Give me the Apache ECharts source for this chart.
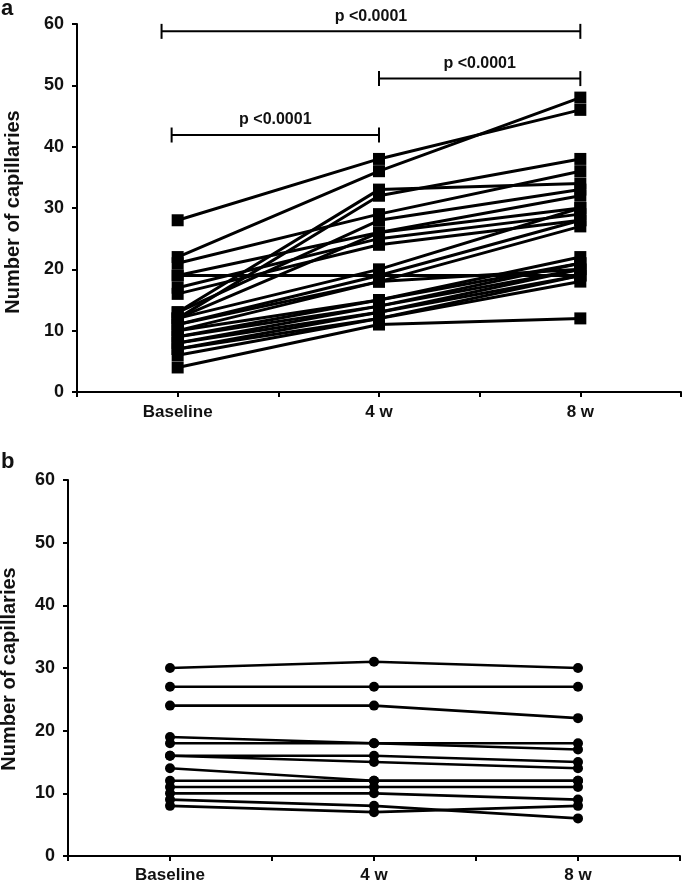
<!DOCTYPE html>
<html>
<head>
<meta charset="utf-8">
<script src="https://cdn.jsdelivr.net/npm/echarts@6/dist/echarts.min.js"></script>
<style>
html,body{margin:0;padding:0;background:#fff;}
#chart{width:685px;height:884px;}
</style>
</head>
<body>
<div id="chart"></div>
<script>
// ---- data ----
const categories = ['Baseline', '4 w', '8 w'];
const yTicks = [0, 10, 20, 30, 40, 50, 60];

// Panel a (squares): one value per subject at each time point
const aBaseline = [28, 22, 21, 19, 19, 17, 16, 13, 12, 13, 12, 11, 11, 10, 10, 9, 9, 8, 8, 7, 7, 6, 4, 12];
const a4w       = [38, 36, 29, 19, 26, 25, 24, 33, 32, 28, 20, 19, 18, 18, 15, 15, 14, 14, 13, 13, 12, 12, 11, 26];
const a8w       = [46, 48, 36, 19, 30, 29, 28, 34, 38, 33, 30, 28, 27, 20, 22, 21, 20, 21, 19, 20, 18, 19, 12, 32];

// Panel b (circles)
const bBaseline = [30, 27, 24, 19, 18, 16, 16, 14, 12, 11, 10, 9, 8];
const b4w       = [31, 27, 24, 18, 18, 16, 15, 12, 12, 11, 10, 8, 7];
const b8w       = [30, 27, 22, 18, 17, 15, 14, 12, 12, 11, 9, 6, 8];

// Significance brackets on panel a: [from x, to x, level]
const bracketFrom  = [-0.03, 1, -0.08];
const bracketTo    = [1, 2, 2];
const bracketLevel = [41.9, 51.1, 58.8];
const bracketText  = ['p <0.0001', 'p <0.0001', 'p <0.0001'];

// ---- chart ----
const FONT = '"Liberation Sans", Arial, Helvetica, sans-serif';
const chart = echarts.init(document.getElementById('chart'), null, {renderer: 'canvas'});

function xAxisDef(gridIndex, labelMargin) {
  return {
    gridIndex, type: 'value', min: -0.5, max: 2.5, interval: 0.5,
    axisLine: {show: true, onZero: false, lineStyle: {color: '#000', width: 2}},
    axisTick: {show: true, inside: false, length: 5, lineStyle: {color: '#000', width: 2}},
    splitLine: {show: false},
    axisLabel: {
      margin: labelMargin, color: '#111', fontSize: 17, fontWeight: 'bold', fontFamily: FONT,
      showMinLabel: true, showMaxLabel: true,
      formatter: v => (Number.isInteger(v) && categories[v] !== undefined) ? categories[v] : ''
    }
  };
}
function yAxisDef(gridIndex) {
  return {
    gridIndex, type: 'value', min: yTicks[0], max: yTicks[yTicks.length - 1], interval: 10,
    axisLine: {show: true, onZero: false, lineStyle: {color: '#000', width: 2}},
    axisTick: {show: true, inside: false, length: 5, lineStyle: {color: '#000', width: 2}},
    splitLine: {show: false},
    axisLabel: {margin: 13, color: '#111', fontSize: 18, fontWeight: 'bold', fontFamily: FONT}
  };
}

const series = [];
for (let i = 0; i < aBaseline.length; i++) {
  series.push({
    type: 'line', xAxisIndex: 0, yAxisIndex: 0,
    data: [[0, aBaseline[i]], [1, a4w[i]], [2, a8w[i]]],
    symbol: 'rect', symbolSize: 12, showSymbol: true,
    lineStyle: {color: '#000', width: 3},
    itemStyle: {color: '#000'},
    animation: false, silent: true, z: 2
  });
}
for (let i = 0; i < bBaseline.length; i++) {
  series.push({
    type: 'line', xAxisIndex: 1, yAxisIndex: 1,
    data: [[0, bBaseline[i]], [1, b4w[i]], [2, b8w[i]]],
    symbol: 'circle', symbolSize: 10, showSymbol: true,
    lineStyle: {color: '#000', width: 2.6},
    itemStyle: {color: '#000'},
    animation: false, silent: true, z: 2
  });
}
series.push({
  type: 'custom', xAxisIndex: 0, yAxisIndex: 0, animation: false, silent: true,
  encode: {x: [0, 1], y: 2},
  data: bracketFrom.map((f, i) => [f, bracketTo[i], bracketLevel[i]]),
  renderItem: function (params, api) {
    const p1 = api.coord([api.value(0), api.value(2)]);
    const p2 = api.coord([api.value(1), api.value(2)]);
    const ls = {stroke: '#000', lineWidth: 2};
    return {
      type: 'group',
      children: [
        {type: 'line', shape: {x1: p1[0], y1: p1[1], x2: p2[0], y2: p2[1]}, style: ls},
        {type: 'line', shape: {x1: p1[0], y1: p1[1] - 7.5, x2: p1[0], y2: p1[1] + 7.5}, style: ls},
        {type: 'line', shape: {x1: p2[0], y1: p2[1] - 7.5, x2: p2[0], y2: p2[1] + 7.5}, style: ls},
        {type: 'text', x: (p1[0] + p2[0]) / 2, y: p1[1] - 15,
         style: {text: bracketText[params.dataIndex], fill: '#111', fontSize: 16, fontWeight: 'bold',
                 fontFamily: FONT, align: 'center', verticalAlign: 'middle'}}
      ]
    };
  }
});

chart.setOption({
  animation: false,
  backgroundColor: '#fff',
  grid: [
    {left: 77, right: 4, top: 24, height: 368},
    {left: 68, right: 5, top: 480, height: 377}
  ],
  xAxis: [xAxisDef(0, 12), xAxisDef(1, 11)],
  yAxis: [yAxisDef(0), yAxisDef(1)],
  series: series,
  graphic: [
    {type: 'text', x: 1, y: 9, style: {text: 'a', fill: '#111', fontSize: 22, fontWeight: 'bold', fontFamily: FONT, align: 'left', verticalAlign: 'middle'}},
    {type: 'text', x: 1, y: 462, style: {text: 'b', fill: '#111', fontSize: 22, fontWeight: 'bold', fontFamily: FONT, align: 'left', verticalAlign: 'middle'}},
    {type: 'text', x: 13, y: 212, rotation: Math.PI / 2, style: {text: 'Number of capillaries', fill: '#111', fontSize: 20, fontWeight: 'bold', fontFamily: FONT, align: 'center', verticalAlign: 'middle'}},
    {type: 'text', x: 9, y: 669, rotation: Math.PI / 2, style: {text: 'Number of capillaries', fill: '#111', fontSize: 20, fontWeight: 'bold', fontFamily: FONT, align: 'center', verticalAlign: 'middle'}}
  ]
});
</script>
</body>
</html>
